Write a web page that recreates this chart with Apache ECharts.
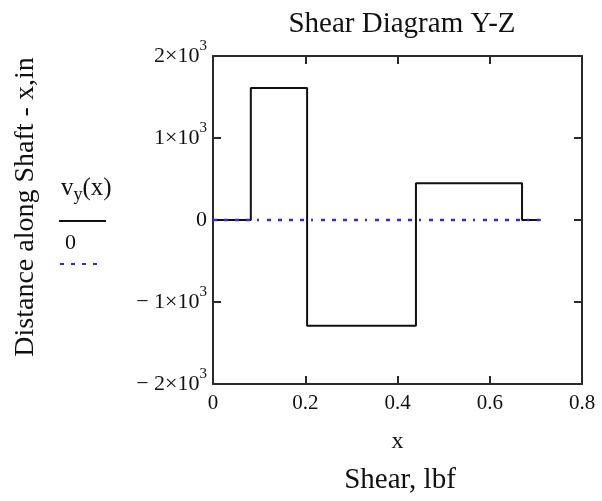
<!DOCTYPE html>
<html>
<head>
<meta charset="utf-8">
<script src="https://cdn.jsdelivr.net/npm/echarts@6/dist/echarts.min.js"></script>
<style>
  html, body { margin: 0; padding: 0; background: #ffffff; }
  #chart { width: 602px; height: 501px; }
</style>
</head>
<body>
<div id="chart"></div>
<script>
// Shear breakpoints along the shaft (x, in) and the shear level that starts there (lbf)
const shearX = [0, 0.082, 0.204, 0.44, 0.67, 0.71];
const shearV = [0, 1610, -1290, 447, 0, 0];

// Zero reference line
const zeroX = [0, 0.71];
const zeroV = [0, 0];

// Axis ticks and their labels (mantissa and power of ten)
const xTickValues = [0, 0.2, 0.4, 0.6, 0.8];
const xTickLabels = ['0', '0.2', '0.4', '0.6', '0.8'];
const yTickValues = [-2000, -1000, 0, 1000, 2000];
const yTickMantissa = ['\u2212 2\u00d710', '\u2212 1\u00d710', '0', '1\u00d710', '2\u00d710'];
const yTickPower = ['3', '3', '', '3', '3'];

const FONT = '"Liberation Serif", "DejaVu Serif", serif';
const INK = '#111111';
const FRAME = '#2a2a2a';
const BLUE = '#2b2bf0';

const grid = { left: 213, right: 20, top: 56, bottom: 117 };

function indexOfTick(values, v) {
  for (let i = 0; i < values.length; i++) {
    if (Math.abs(values[i] - v) < 1e-9) return i;
  }
  return -1;
}

const baseAxis = {
  type: 'value',
  axisLine: { show: true, onZero: false, lineStyle: { color: FRAME, width: 2 } },
  axisTick: { show: true, inside: true, length: 8, lineStyle: { color: FRAME, width: 2 } },
  splitLine: { show: false }
};

const chart = echarts.init(document.getElementById('chart'), null, { renderer: 'canvas' });

chart.setOption({
  animation: false,
  backgroundColor: '#ffffff',
  title: {
    text: 'Shear Diagram Y-Z',
    left: 397,
    top: 5,
    textAlign: 'center',
    textStyle: { fontFamily: FONT, fontSize: 29, fontWeight: 'normal', color: INK }
  },
  grid: grid,
  xAxis: [
    Object.assign({}, baseAxis, {
      position: 'bottom',
      min: 0, max: 0.8, interval: 0.2,
      name: 'x',
      nameLocation: 'middle',
      nameGap: 46,
      nameTextStyle: { fontFamily: FONT, fontSize: 24, color: INK },
      axisLabel: {
        margin: 9,
        fontFamily: FONT, fontSize: 21, color: INK,
        formatter: function (v) {
          const i = indexOfTick(xTickValues, v);
          return i < 0 ? '' : xTickLabels[i];
        }
      }
    }),
    Object.assign({}, baseAxis, {
      position: 'top',
      min: 0, max: 0.8, interval: 0.2,
      axisLabel: { show: false }
    })
  ],
  yAxis: [
    Object.assign({}, baseAxis, {
      position: 'left',
      min: -2000, max: 2000, interval: 1000,
      axisLabel: {
        margin: 6,
        color: INK,
        formatter: function (v) {
          const i = indexOfTick(yTickValues, v);
          if (i < 0) return '';
          if (!yTickPower[i]) return '{z|' + yTickMantissa[i] + '}';
          return '{m|' + yTickMantissa[i] + '}{p|' + yTickPower[i] + '}';
        },
        rich: {
          z: { fontFamily: FONT, fontSize: 22, lineHeight: 22, color: INK },
          m: { fontFamily: FONT, fontSize: 22, lineHeight: 22, color: INK, verticalAlign: 'bottom', padding: [0, 0, 0, 0] },
          p: { fontFamily: FONT, fontSize: 15, lineHeight: 15, color: INK, verticalAlign: 'bottom', padding: [0, 0, 13, 0] }
        }
      }
    }),
    Object.assign({}, baseAxis, {
      position: 'right',
      min: -2000, max: 2000, interval: 1000,
      axisLabel: { show: false }
    })
  ],
  graphic: [
    {
      type: 'text',
      x: 26, y: 207,
      rotation: Math.PI / 2,
      style: {
        text: 'Distance along Shaft - x,in',
        font: '28px ' + FONT,
        fill: INK,
        align: 'center',
        verticalAlign: 'middle'
      }
    },
    {
      type: 'text',
      x: 400, y: 480,
      style: {
        text: 'Shear, lbf',
        font: '29px ' + FONT,
        fill: INK,
        align: 'center',
        verticalAlign: 'middle'
      }
    },
    {
      type: 'text',
      x: 61, y: 188,
      style: {
        text: '{a|v}{b|y}{a|(x)}',
        fill: INK,
        verticalAlign: 'middle',
        rich: {
          a: { fontFamily: FONT, fontSize: 25, color: INK },
          b: { fontFamily: FONT, fontSize: 18, color: INK, padding: [14, 0, 0, 0] }
        }
      }
    },
    {
      type: 'line',
      shape: { x1: 59, y1: 221, x2: 106, y2: 221 },
      style: { stroke: INK, lineWidth: 2 }
    },
    {
      type: 'text',
      x: 65, y: 243,
      style: {
        text: '0',
        font: '22px ' + FONT,
        fill: INK,
        verticalAlign: 'middle'
      }
    },
    {
      type: 'line',
      shape: { x1: 60, y1: 264, x2: 97, y2: 264 },
      style: { stroke: BLUE, lineWidth: 2, lineDash: [4, 7] }
    }
  ],
  series: [
    {
      name: 'Vy(x)',
      type: 'line',
      step: 'end',
      xAxisIndex: 0, yAxisIndex: 0,
      data: shearX.map((x, i) => [x, shearV[i]]),
      showSymbol: false,
      symbol: 'none',
      lineStyle: { color: INK, width: 2 },
      z: 3
    },
    {
      name: '0',
      type: 'line',
      xAxisIndex: 0, yAxisIndex: 0,
      data: zeroX.map((x, i) => [x, zeroV[i]]),
      showSymbol: false,
      symbol: 'none',
      lineStyle: { color: BLUE, width: 2.5, type: [4, 7, 4, 7, 4, 7, 4, 7, 2, 8] },
      z: 4
    }
  ]
});
</script>
</body>
</html>
